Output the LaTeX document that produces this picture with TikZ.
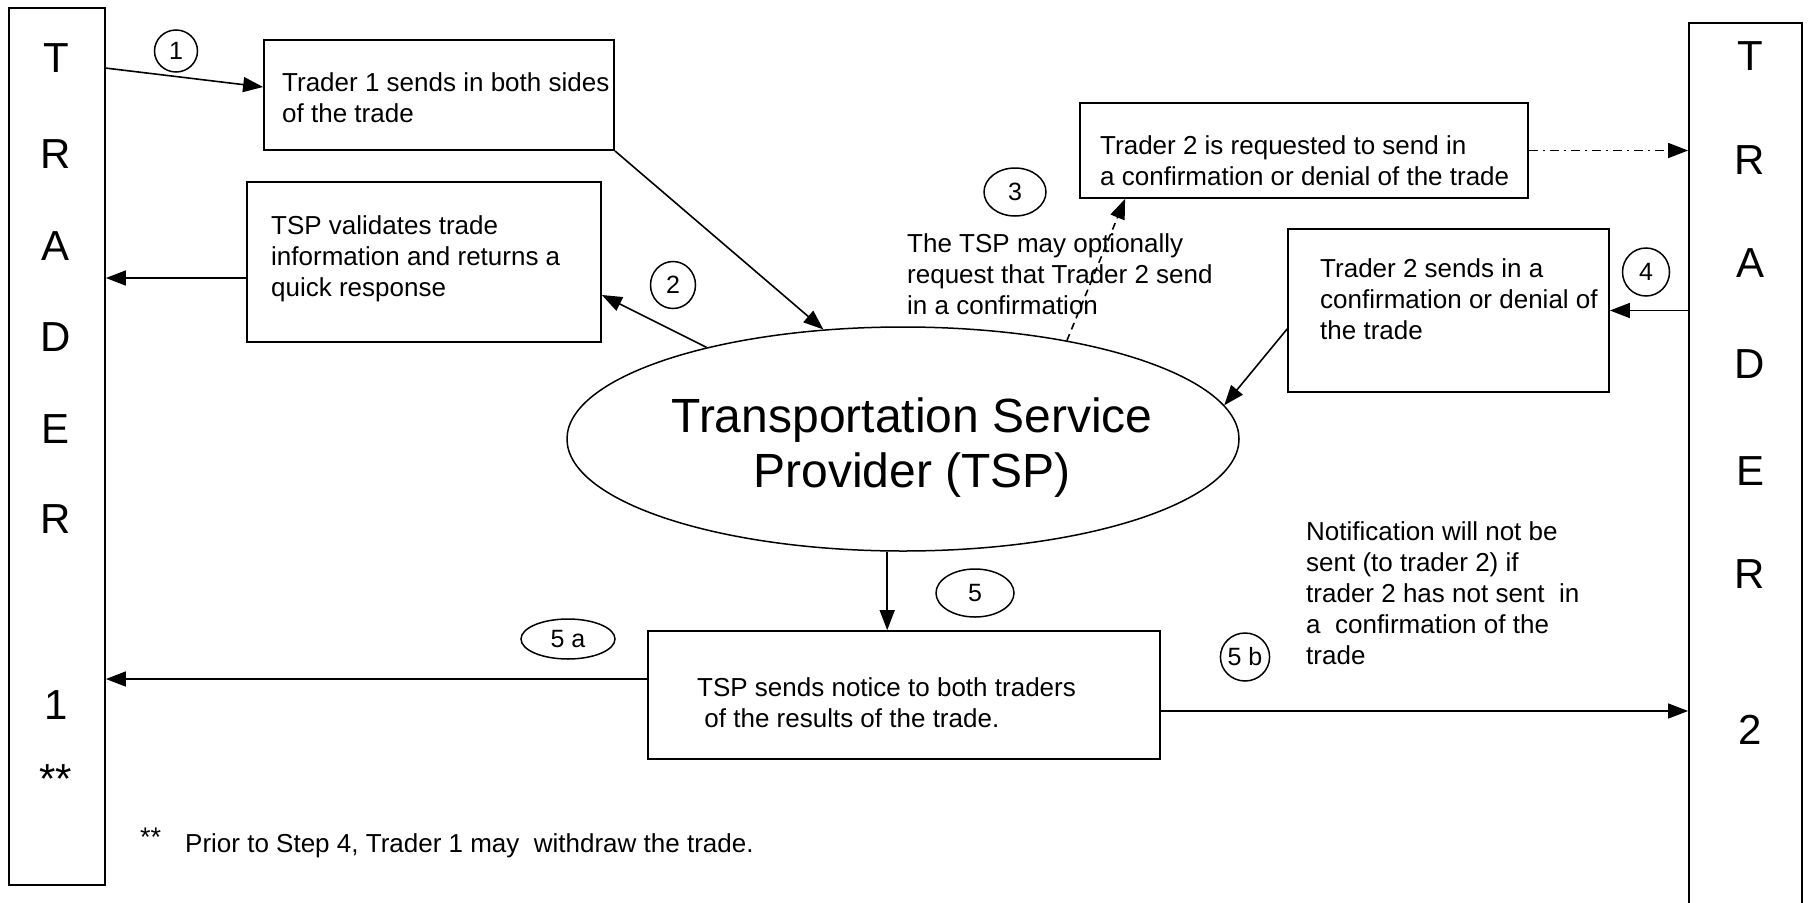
\documentclass[tikz,border=0pt]{standalone}
\usepackage{fontspec}
\setmainfont{Liberation Sans}
\usetikzlibrary{arrows.meta,shapes.geometric}
\tikzset{
  box/.style={draw,line width=1.8pt,inner sep=0pt,rectangle},
  txt/.style={anchor=north west,align=left,inner sep=0pt,font=\fontsize{26}{31}\selectfont},
  big/.style={inner sep=0pt,font=\fontsize{42}{42}\selectfont},
  num/.style={draw,ellipse,line width=1.5pt,inner sep=0pt,font=\fontsize{25}{25}\selectfont},
  arr/.style={line width=1.6pt,-{Triangle[length=20pt,width=15pt]}},
}
\begin{document}
\begin{tikzpicture}[x=1pt,y=-1pt]
\useasboundingbox[fill=white] (0,0) rectangle (1811,902);

% trader columns
\node[box,minimum width=96pt,minimum height=877pt] (t1) at (57,446.5) {};
\node[box,minimum width=113pt,minimum height=900pt] (t2) at (1745.5,473) {};
\foreach \l/\y [count=\i] in {T/58,R/154,A/246,D/337,E/429,R/519,1/705,**/779}
  \node[big] (l\i) at (56,\y) {\l};
\foreach \l/\y [count=\i] in {T/56,R/160,A/263,D/364,E/471,R/574,2/730}
  \node[big] (r\i) at (1750,\y) {\l};

% boxes
\node[box,minimum width=350pt,minimum height=110pt] (b1) at (439,95) {};
\node[box,minimum width=354pt,minimum height=160pt] (b2) at (424,262) {};
\node[box,minimum width=448pt,minimum height=95pt] (b3) at (1304,150.5) {};
\node[box,minimum width=321pt,minimum height=163pt] (b4) at (1448.5,310.5) {};
\node[box,minimum width=512pt,minimum height=128pt] (b5) at (904,695) {};

\node[txt] (x1) at (282,72) {Trader 1 sends in both sides\\of the trade};
\node[txt] (x2) at (271,215) {TSP validates trade\\information and returns a\\quick response};
\node[txt] (x3) at (1100,135) {Trader 2 is requested to send in\\a confirmation or denial of the trade};
\node[txt] (x4) at (1320,258) {Trader 2 sends in a\\confirmation or denial of\\the trade};
\node[txt] (x5) at (697,677) {TSP sends notice to both traders\\\ of the results of the trade.};
\node[txt] (x6) at (907,233) {The TSP may optionally\\request that Trader 2 send\\in a confirmation};
\node[txt] (x7) at (1306,521) {Notification will not be\\sent (to trader 2) if\\trader 2 has not sent\ \ in\\a\ \ confirmation of the\\trade};
\node[inner sep=0pt,anchor=base west,font=\fontsize{27}{31}\selectfont] (fs) at (140,846) {**};
\node[inner sep=0pt,anchor=base west,font=\fontsize{26}{31}\selectfont] (fn) at (185,852) {Prior to Step 4, Trader 1 may\ \ withdraw the trade.};

% ellipse
\node[draw,ellipse,line width=1.5pt,minimum width=672pt,minimum height=224pt,inner sep=0pt] (el) at (903,439) {};
\node[align=center,inner sep=0pt,font=\fontsize{48}{55}\selectfont] (elt) at (912,448) {Transportation Service\\Provider (TSP)};

% step markers
\node[num,minimum width=43pt,minimum height=42pt] (c1) at (176,51) {1};
\node[num,minimum width=45pt,minimum height=47pt] (c2) at (673,285) {2};
\node[num,minimum width=62pt,minimum height=48pt] (c3) at (1015,192) {3};
\node[num,minimum width=47pt,minimum height=48pt] (c4) at (1646,272) {4};
\node[num,minimum width=78pt,minimum height=48pt] (c5) at (975,593) {5};
\node[num,minimum width=94pt,minimum height=40pt] (c5a) at (568,639) {5 a};
\node[num,minimum width=46pt,minimum height=48pt] (c5b) at (1245,657) {5 b};

% connectors
\draw[arr] ([yshift=-61pt]t1.north east) -- ([yshift=8pt]b1.west);
\draw[arr] ([yshift=-16pt]b2.west) -- ([yshift=-16pt]b2.west -| t1.east);
\draw[arr] (b1.south east) -- (el.126.6);
\draw[arr] (el.155) -- ([yshift=-33pt]b2.east);
\draw[arr,dash pattern=on 7pt off 5pt] (el.31.2) -- ([xshift=46pt]b3.south west);
\draw[arr,dash pattern=on 9pt off 5pt on 2pt off 5pt] (b3.east) -- (b3.east -| t2.west);
\draw[arr] (b4.east -| t2.west) -- (b4.east);
\draw[arr] ([yshift=-18.5pt]b4.west) -- (el.6.6);
\draw[arr] (el.-98.7) -- (el.-98.7 |- b5.north);
\draw[arr] ([yshift=16pt]b5.west) -- ([yshift=16pt]b5.west -| t1.east);
\draw[arr] ([yshift=-16pt]b5.east) -- ([yshift=-16pt]b5.east -| t2.west);
\end{tikzpicture}
\end{document}
